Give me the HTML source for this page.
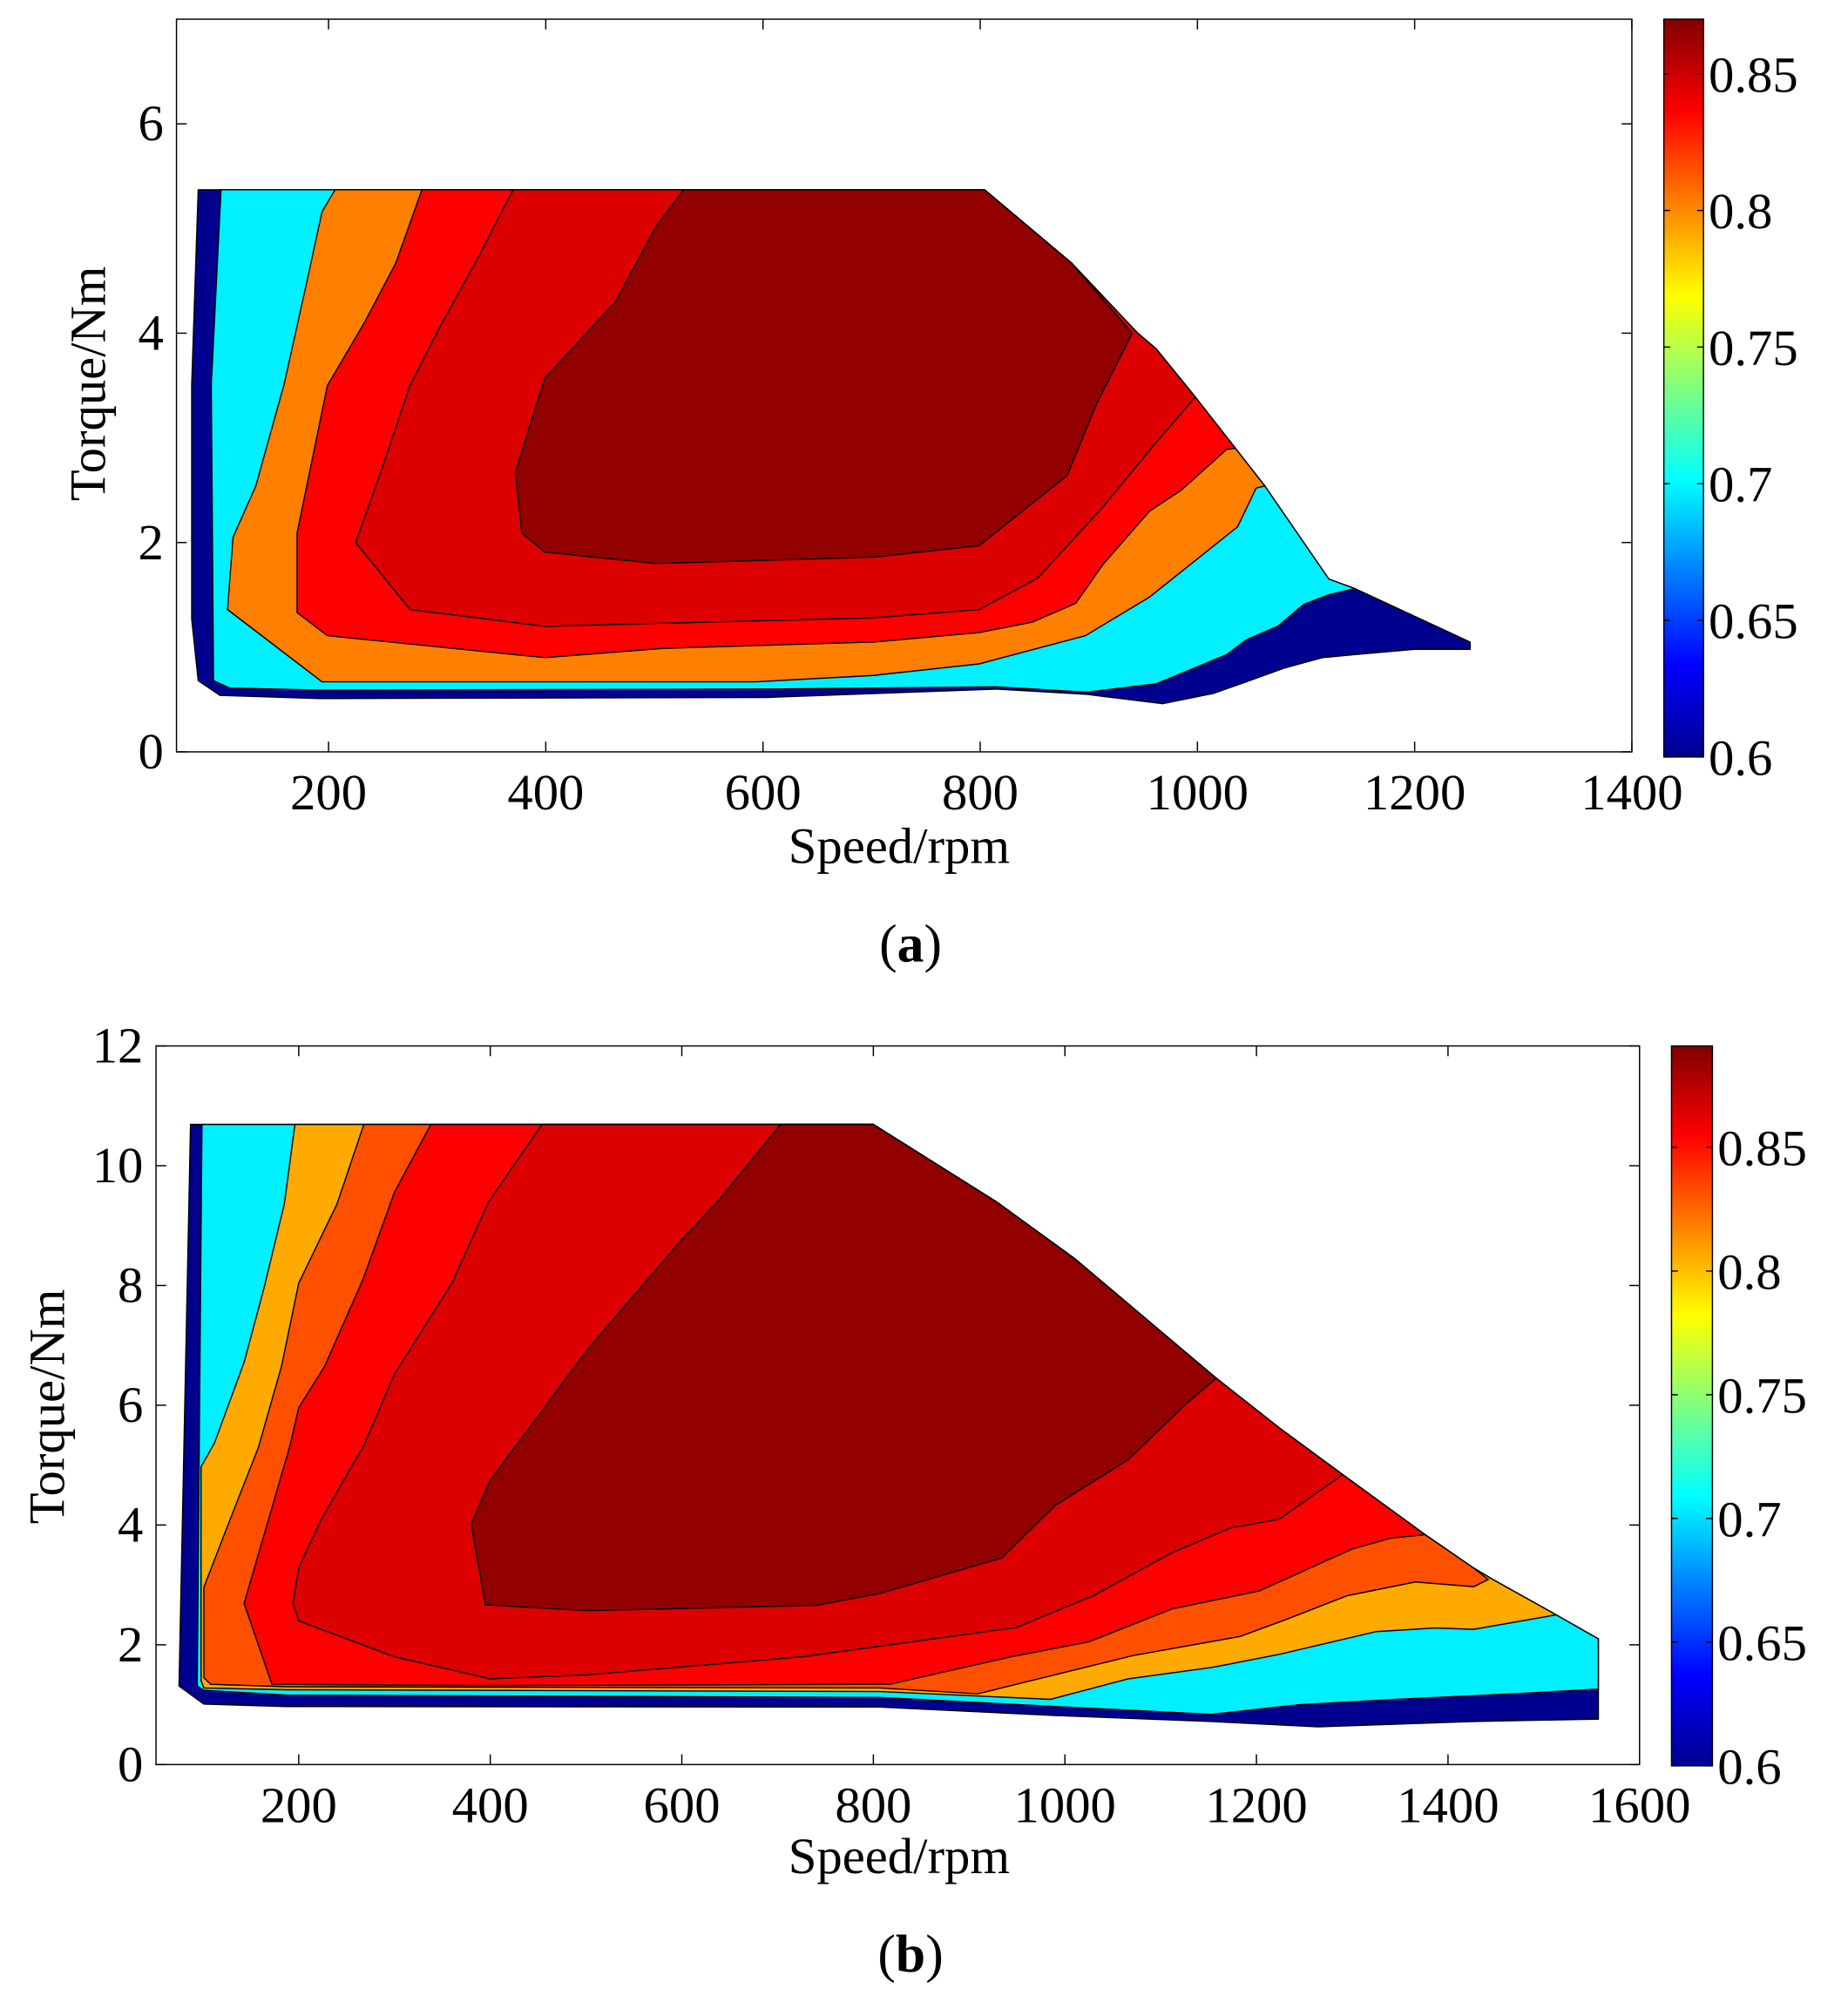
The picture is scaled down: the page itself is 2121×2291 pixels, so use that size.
<!DOCTYPE html>
<html><head><meta charset="utf-8"><style>
html,body{margin:0;padding:0;background:#fff;}
svg{display:block;}
text{font-family:"Liberation Serif",serif;fill:#000;}
</style></head><body>
<svg id="fig" width="2121" height="2291" viewBox="0 0 1445 1561" preserveAspectRatio="none" xmlns="http://www.w3.org/2000/svg">
<defs>
<linearGradient id="jet" x1="0" y1="1" x2="0" y2="0">
<stop offset="0" stop-color="#00008F"/><stop offset="0.125" stop-color="#0000FF"/>
<stop offset="0.375" stop-color="#00FFFF"/><stop offset="0.625" stop-color="#FFFF00"/>
<stop offset="0.875" stop-color="#FF0000"/><stop offset="1" stop-color="#800000"/>
</linearGradient>
</defs>
<g id="chartA"></g>
<g id="chartB"></g>
</svg>
<script>
// ---- Chart (a) data: contour regions (speed rpm, torque Nm), drawn low level -> high level
const aLevels = [0.6, 0.7, 0.8, 0.83, 0.85, 0.865];
const aColors = ["#00008F", "#00F0FF", "#FF8000", "#FF0000", "#DD0000", "#920000"];
const aRegion0 = [[80,5.37],[804,5.37],[884,4.67],[945,4.0],[962,3.85],[998,3.39],[1035,2.9],[1062,2.54],[1121,1.65],[1145,1.56],[1251,1.05],[1251,0.98],[1200,0.98],[1145,0.93],[1115,0.9],[1080,0.8],[1045,0.67],[1015,0.56],[968,0.46],[898,0.55],[815,0.6],[604,0.52],[192,0.51],[100,0.54],[80,0.68],[74,1.27],[74,3.5]];
const aRegion1 = [[101,5.37],[804,5.37],[884,4.67],[945,4.0],[962,3.85],[998,3.39],[1035,2.9],[1062,2.54],[1121,1.65],[1145,1.56],[1121,1.5],[1098,1.41],[1074,1.2],[1045,1.07],[1027,0.93],[1004,0.83],[962,0.65],[898,0.57],[815,0.62],[604,0.6],[192,0.59],[109,0.61],[94,0.68],[92,3.51]];
const aRegion2 = [[206,5.37],[804,5.37],[884,4.67],[945,4.0],[962,3.85],[998,3.39],[1035,2.9],[1062,2.54],[1054,2.52],[1037,2.15],[956,1.48],[897,1.11],[799,0.84],[702,0.73],[594,0.67],[194,0.67],[107,1.36],[112,2.05],[133,2.54],[159,3.51],[180,4.49],[194,5.16]];
const aRegion3 = [[286,5.37],[804,5.37],[884,4.67],[945,4.0],[962,3.85],[998,3.39],[1035,2.9],[1027,2.89],[985,2.5],[956,2.3],[913,1.79],[888,1.42],[848,1.24],[799,1.14],[702,1.05],[509,0.99],[399,0.9],[199,1.11],[171,1.33],[171,2.09],[199,3.5],[233,4.1],[262,4.67]];
const aRegion4 = [[370,5.37],[804,5.37],[884,4.67],[945,4.0],[962,3.85],[998,3.39],[959,2.92],[913,2.34],[853,1.66],[799,1.36],[702,1.28],[399,1.2],[275,1.36],[225,2.0],[249,2.7],[275,3.5],[302,4.05],[335,4.67]];
const aRegion5 = [[527,5.37],[804,5.37],[884,4.67],[940,4.0],[907,3.32],[880,2.64],[799,1.97],[702,1.86],[502,1.8],[399,1.91],[378,2.09],[372,2.67],[399,3.57],[464,4.3],[502,5.03]];
const aXTicks = [200,400,600,800,1000,1200,1400];
const aYTicks = [0,2,4,6];
const aCTicks = [0.6,0.65,0.7,0.75,0.8,0.85];

// ---- Chart (b) data
const bLevels = [0.6, 0.7, 0.79, 0.83, 0.85, 0.87, 0.885];
const bColors = ["#00008F", "#00F0FF", "#FFAA00", "#FF5000", "#FF0000", "#DD0000", "#920000"];
const bRegion0 = [[87,10.69],[800,10.69],[929,9.39],[1010,8.45],[1158,6.45],[1224,5.62],[1290,4.84],[1376,3.84],[1427,3.28],[1447,3.09],[1513,2.5],[1557,2.1],[1557,0.76],[1427,0.72],[1264,0.63],[1153,0.72],[990,0.82],[807,0.96],[187,0.97],[101,1.01],[75,1.31]];
const bRegion1 = [[99,10.69],[800,10.69],[929,9.39],[1010,8.45],[1158,6.45],[1224,5.62],[1290,4.84],[1376,3.84],[1427,3.28],[1447,3.09],[1513,2.5],[1557,2.1],[1557,1.26],[1467,1.18],[1346,1.09],[1244,1.0],[1153,0.84],[990,0.97],[807,1.12],[187,1.16],[101,1.24],[94,1.31]];
const bRegion2 = [[196,10.69],[800,10.69],[929,9.39],[1010,8.45],[1158,6.45],[1224,5.62],[1290,4.84],[1376,3.84],[1427,3.28],[1447,3.09],[1513,2.5],[1427,2.26],[1386,2.28],[1325,2.22],[1224,1.84],[1153,1.62],[1066,1.43],[985,1.09],[807,1.22],[187,1.25],[101,1.28],[98,1.4],[98,4.97],[112,5.37],[143,6.72],[164,7.97],[185,9.36]];
const bRegion3 = [[268,10.69],[800,10.69],[929,9.39],[1010,8.45],[1158,6.45],[1224,5.62],[1290,4.84],[1376,3.84],[1427,3.28],[1442,3.09],[1427,2.97],[1366,3.05],[1295,2.82],[1229,2.41],[1183,2.14],[1071,1.82],[909,1.18],[807,1.28],[187,1.3],[108,1.34],[101,1.45],[101,2.96],[128,4.08],[158,5.3],[182,6.65],[200,8.04],[240,9.36]];
const bRegion4 = [[338,10.69],[800,10.69],[929,9.39],[1010,8.45],[1158,6.45],[1224,5.62],[1290,4.84],[1376,3.84],[1340,3.78],[1300,3.6],[1203,2.9],[1112,2.6],[1025,2.05],[944,1.8],[817,1.34],[400,1.32],[172,1.34],[143,2.69],[191,5.33],[200,5.96],[227,6.65],[267,8.1],[300,9.56]];
const bRegion5 = [[454,10.69],[800,10.69],[929,9.39],[1010,8.45],[1158,6.45],[1224,5.62],[1290,4.84],[1224,4.1],[1173,3.95],[1112,3.54],[1030,2.82],[949,2.29],[726,1.8],[502,1.5],[400,1.43],[300,1.8],[200,2.4],[194,2.69],[200,3.29],[224,4.11],[268,5.33],[300,6.52],[360,8.04],[398,9.39]];
const bRegion6 = [[703,10.69],[800,10.69],[929,9.39],[1010,8.45],[1158,6.45],[1127,6.03],[1066,5.09],[990,4.33],[934,3.45],[807,2.86],[741,2.66],[502,2.57],[395,2.67],[380,4.01],[400,4.75],[502,6.94],[599,8.75],[639,9.43]];
const bXTicks = [200,400,600,800,1000,1200,1400,1600];
const bYTicks = [0,2,4,6,8,10,12];
const bCTicks = [0.6,0.65,0.7,0.75,0.8,0.85];

const NS = "http://www.w3.org/2000/svg";
function mk(parent, tag, attrs, txt) {
  const e = document.createElementNS(NS, tag);
  for (const k in attrs) e.setAttribute(k, attrs[k]);
  if (txt !== undefined) e.textContent = txt;
  parent.appendChild(e);
  return e;
}

function drawChart(g, cfg) {
  const X = v => cfg.px0 + (v - cfg.xmin) / (cfg.xmax - cfg.xmin) * (cfg.px1 - cfg.px0);
  const Y = v => cfg.py1 - (v - cfg.ymin) / (cfg.ymax - cfg.ymin) * (cfg.py1 - cfg.py0);
  cfg.regions.forEach((poly, i) => {
    const p = mk(g, "polygon", {points: poly.map(q => X(q[0]).toFixed(1) + "," + Y(q[1]).toFixed(1)).join(" "), fill: cfg.colors[i], stroke: "#000", "stroke-width": 1});
    
    
  });
  const box = mk(g, "rect", {x: cfg.px0, y: cfg.py0, width: cfg.px1 - cfg.px0, height: cfg.py1 - cfg.py0, fill: "none", stroke: "#000", "stroke-width": 1});
  
  
  cfg.xticks.forEach(t => {
    const x = X(t);
    mk(g, "line", {x1: x, y1: cfg.py1, x2: x, y2: cfg.py1 - 8, stroke: "#000"});
    mk(g, "line", {x1: x, y1: cfg.py0, x2: x, y2: cfg.py0 + 8, stroke: "#000"});
    const tl = mk(g, "text", {x: x, y: cfg.py1 + 45, "font-size": 40, "text-anchor": "middle"}, String(t));
    
    
  });
  cfg.yticks.forEach(t => {
    const y = Y(t);
    mk(g, "line", {x1: cfg.px0, y1: y, x2: cfg.px0 + 8, y2: y, stroke: "#000"});
    mk(g, "line", {x1: cfg.px1, y1: y, x2: cfg.px1 - 8, y2: y, stroke: "#000"});
    const tl = mk(g, "text", {x: cfg.px0 - 10, y: y + 13, "font-size": 40, "text-anchor": "end"}, String(t));
    
    
  });
  const xt = mk(g, "text", {x: 703, y: cfg.xtitleY, "font-size": 40, "text-anchor": "middle"}, "Speed/rpm");
  
  
  const yt = mk(g, "text", {x: 0, y: 0, "font-size": 40, "text-anchor": "middle", transform: "translate(" + cfg.ytitleX + "," + cfg.ytitleY + ") rotate(-90)"}, "Torque/Nm");
  
  
  const C = v => cfg.cy1 - (v - cfg.cmin) / (cfg.cmax - cfg.cmin) * (cfg.cy1 - cfg.cy0);
  const cb = mk(g, "rect", {x: cfg.cx0, y: cfg.cy0, width: cfg.cw, height: cfg.cy1 - cfg.cy0, fill: "url(#jet)", stroke: "#000", "stroke-width": 1});
  
  
  cfg.cticks.forEach(t => {
    const y = C(t);
    mk(g, "line", {x1: cfg.cx0, y1: y, x2: cfg.cx0 + 5, y2: y, stroke: "#000"});
    mk(g, "line", {x1: cfg.cx0 + cfg.cw, y1: y, x2: cfg.cx0 + cfg.cw - 5, y2: y, stroke: "#000"});
    const tl = mk(g, "text", {x: cfg.cx0 + cfg.cw + 4, y: y + 14, "font-size": 40}, String(t));
    
    
  });
  const cap = mk(g, "text", {x: 712, y: cfg.capY, "font-size": 42, "text-anchor": "middle"});
  
  
  mk(cap, "tspan", {}, "(");
  mk(cap, "tspan", {"font-weight": "bold"}, cfg.caption);
  mk(cap, "tspan", {}, ")");
}

drawChart(document.getElementById("chartA"), {
  regions: [aRegion0, aRegion1, aRegion2, aRegion3, aRegion4, aRegion5], levels: aLevels, colors: aColors,
  xmin: 60, xmax: 1400, ymin: 0, ymax: 7.0, px0: 138, px1: 1276, py0: 15, py1: 588,
  xticks: aXTicks, yticks: aYTicks, cticks: aCTicks,
  cx0: 1301, cw: 31, cy0: 15, cy1: 592, cmin: 0.6, cmax: 0.870,
  xtitleY: 675, ytitleX: 82, ytitleY: 300, capY: 752, caption: "a"
});
drawChart(document.getElementById("chartB"), {
  regions: [bRegion0, bRegion1, bRegion2, bRegion3, bRegion4, bRegion5, bRegion6], levels: bLevels, colors: bColors,
  xmin: 51, xmax: 1600, ymin: 0, ymax: 12, px0: 122, px1: 1282, py0: 818, py1: 1380,
  xticks: bXTicks, yticks: bYTicks, cticks: bCTicks,
  cx0: 1307, cw: 32, cy0: 818, cy1: 1381, cmin: 0.6, cmax: 0.891,
  xtitleY: 1465, ytitleX: 50, ytitleY: 1100, capY: 1542, caption: "b"
});
</script>
</body></html>
